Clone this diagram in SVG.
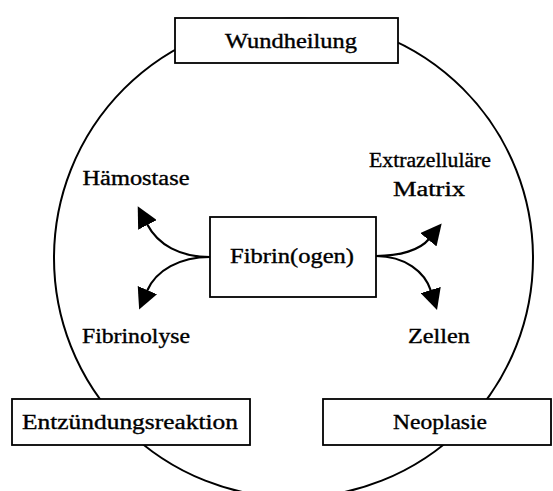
<svg xmlns="http://www.w3.org/2000/svg" width="553" height="491" viewBox="0 0 553 491">
<style>
.box{fill:#fff;stroke:#000;stroke-width:1.8}
.ring{fill:none;stroke:#000;stroke-width:2}
.con{fill:none;stroke:#000;stroke-width:2.2}
text{font-family:"Liberation Serif","DejaVu Serif",serif;font-size:20px;fill:#000;stroke:#000;stroke-width:0.35}
</style>
<defs>
<marker id="ah" markerUnits="userSpaceOnUse" viewBox="0 0 21 21" markerWidth="21" markerHeight="21" refX="1" refY="10.5" orient="auto">
<path d="M0,0 L21,10.5 L0,21 z" fill="#000"/>
</marker>
</defs>
<circle class="ring" cx="293.5" cy="258" r="239.5"/>
<g id="connectors">
<path class="con" d="M210,257 C180,257 158,245 147,224" marker-end="url(#ah)"/>
<path class="con" d="M210,257 C180,257 156,270 147,291" marker-end="url(#ah)"/>
<path class="con" d="M376,256 C400,256 420,250 429,239" marker-end="url(#ah)"/>
<path class="con" d="M376,256 C405,256 425,272 431,291" marker-end="url(#ah)"/>
</g>
<g id="wundheilung">
<rect class="box" x="175" y="18" width="223" height="45"/>
<text x="291" y="48" text-anchor="middle" textLength="132" lengthAdjust="spacingAndGlyphs">Wundheilung</text>
</g>
<g id="fibrin">
<rect class="box" x="210" y="217" width="166" height="80"/>
<text x="292" y="263" text-anchor="middle" textLength="124" lengthAdjust="spacingAndGlyphs">Fibrin(ogen)</text>
</g>
<g id="haemostase">
<text x="136" y="185" text-anchor="middle" textLength="107" lengthAdjust="spacingAndGlyphs">Hämostase</text>
</g>
<g id="fibrinolyse">
<text x="136" y="343" text-anchor="middle" textLength="108" lengthAdjust="spacingAndGlyphs">Fibrinolyse</text>
</g>
<g id="ezm">
<text x="430" y="167" text-anchor="middle" textLength="122" lengthAdjust="spacingAndGlyphs">Extrazelluläre</text>
<text x="429" y="196" text-anchor="middle" textLength="72" lengthAdjust="spacingAndGlyphs">Matrix</text>
</g>
<g id="zellen">
<text x="439" y="343" text-anchor="middle" textLength="62" lengthAdjust="spacingAndGlyphs">Zellen</text>
</g>
<g id="entzuendung">
<rect class="box" x="12" y="399" width="238" height="46"/>
<text x="130" y="429" text-anchor="middle" textLength="216" lengthAdjust="spacingAndGlyphs">Entzündungsreaktion</text>
</g>
<g id="neoplasie">
<rect class="box" x="323" y="399" width="228" height="46"/>
<text x="440" y="429" text-anchor="middle" textLength="94" lengthAdjust="spacingAndGlyphs">Neoplasie</text>
</g>
</svg>
